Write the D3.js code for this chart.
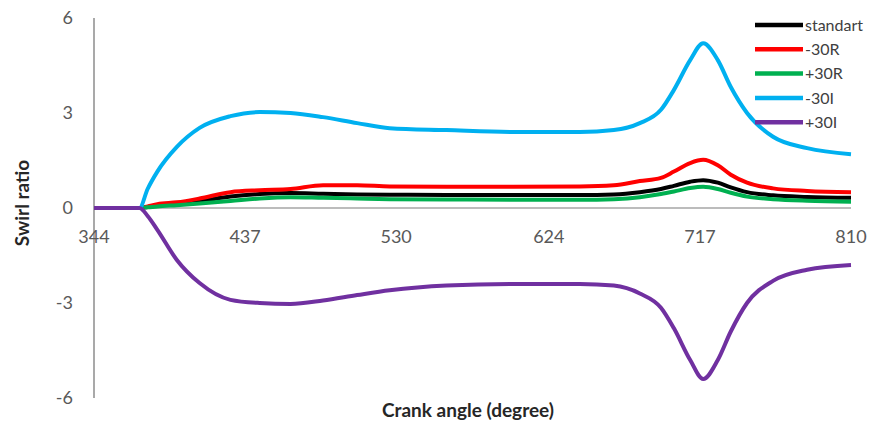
<!DOCTYPE html>
<html>
<head>
<meta charset="utf-8">
<script src="https://cdn.jsdelivr.net/npm/d3@7"></script>
<style>
  html, body { margin: 0; padding: 0; background: #fff; }
  svg { display: block; font-family: Lato, "Open Sans", sans-serif; }
</style>
</head>
<body>
<svg id="chart" width="878" height="427"></svg>
<script>
// Crank angle samples (degree) shared by every series
const angles = [344, 372, 377, 383, 395, 409, 428, 446, 465, 485, 506, 526, 561, 602, 643, 664, 680, 693, 701, 711, 719, 728, 736, 746, 762, 783, 810];

// Swirl ratio per configuration
const standart = [0, 0, 0.03, 0.08, 0.14, 0.22, 0.36, 0.44, 0.47, 0.45, 0.43, 0.42, 0.41, 0.41, 0.41, 0.43, 0.5, 0.6, 0.7, 0.83, 0.88, 0.8, 0.65, 0.5, 0.4, 0.35, 0.32];
const minus30R = [0, 0, 0.05, 0.12, 0.18, 0.3, 0.5, 0.56, 0.6, 0.72, 0.72, 0.68, 0.67, 0.67, 0.68, 0.72, 0.85, 0.95, 1.15, 1.42, 1.52, 1.35, 1.05, 0.8, 0.62, 0.54, 0.5];
const plus30R = [0, 0, 0.02, 0.05, 0.09, 0.14, 0.22, 0.3, 0.34, 0.32, 0.3, 0.28, 0.27, 0.26, 0.26, 0.28, 0.34, 0.44, 0.52, 0.63, 0.67, 0.6, 0.48, 0.36, 0.28, 0.23, 0.2];
const minus30I = [0, 0, 0.6, 1.15, 1.93, 2.53, 2.9, 3.03, 3.0, 2.87, 2.68, 2.52, 2.46, 2.4, 2.4, 2.46, 2.68, 3.1, 3.73, 4.67, 5.2, 4.67, 3.82, 3.0, 2.25, 1.89, 1.7];
const plus30I = [0, 0, -0.25, -0.69, -1.64, -2.37, -2.9, -3.0, -3.03, -2.92, -2.75, -2.6, -2.45, -2.4, -2.4, -2.45, -2.7, -3.15, -3.8, -4.8, -5.4, -4.8, -3.9, -3.0, -2.3, -1.95, -1.8];

const seriesNames = ["standart", "-30R", "+30R", "-30I", "+30I"];
const seriesValues = [standart, minus30R, plus30R, minus30I, plus30I];
const seriesColors = ["#000000", "#ff0000", "#00b050", "#00b0f0", "#7030a0"];

const xTicks = [344, 437, 530, 624, 717, 810];
const yTicks = [-6, -3, 0, 3, 6];

const svg = d3.select("#chart");
const x = d3.scaleLinear().domain([344, 810]).range([94, 851]);
const y = d3.scaleLinear().domain([-6, 6]).range([398, 18]);

// Y axis line
svg.append("line")
  .attr("x1", x(344)).attr("x2", x(344))
  .attr("y1", y(6)).attr("y2", y(-6))
  .attr("stroke", "#8c8c8c").attr("stroke-width", 1.5);

// X axis line at zero
svg.append("line")
  .attr("x1", x(344)).attr("x2", x(810))
  .attr("y1", y(0)).attr("y2", y(0))
  .attr("stroke", "#a6a6a6").attr("stroke-width", 1.5);

// Y tick labels
svg.append("g").selectAll("text").data(yTicks).join("text")
  .attr("x", 73).attr("y", d => y(d))
  .attr("dy", "0.35em")
  .attr("text-anchor", "end")
  .attr("font-size", 18).attr("fill", "#595959")
  .text(d => d);

// X tick labels
svg.append("g").selectAll("text").data(xTicks).join("text")
  .attr("x", d => x(d)).attr("y", 237)
  .attr("dy", "0.35em")
  .attr("text-anchor", "middle")
  .attr("font-size", 18).attr("fill", "#595959")
  .text(d => d);

// Axis titles
svg.append("text")
  .attr("x", 468).attr("y", 417)
  .attr("text-anchor", "middle")
  .attr("font-size", 19).attr("font-weight", "bold").attr("fill", "#262626")
  .text("Crank angle (degree)");

svg.append("text")
  .attr("transform", "translate(29,203) rotate(-90)")
  .attr("text-anchor", "middle")
  .attr("font-size", 19).attr("font-weight", "bold").attr("fill", "#262626")
  .text("Swirl ratio");

// Series lines
const line = d3.line()
  .x((d, i) => x(angles[i]))
  .y(d => y(d))
  .curve(d3.curveMonotoneX);

svg.append("g").selectAll("path").data(seriesValues).join("path")
  .attr("d", d => line(d))
  .attr("fill", "none")
  .attr("stroke", (d, i) => seriesColors[i])
  .attr("stroke-width", 4)
  .attr("stroke-linejoin", "round");

// Legend
const legend = svg.append("g").selectAll("g").data(seriesNames).join("g")
  .attr("transform", (d, i) => `translate(755,${25 + i * 24.3})`);
legend.append("line")
  .attr("x1", 0).attr("x2", 48).attr("y1", 0).attr("y2", 0)
  .attr("stroke", (d, i) => seriesColors[i]).attr("stroke-width", 4.5);
legend.append("text")
  .attr("x", 50).attr("y", 0).attr("dy", "0.35em")
  .attr("font-size", 16).attr("fill", "#404040")
  .text(d => d);
</script>
</body>
</html>
